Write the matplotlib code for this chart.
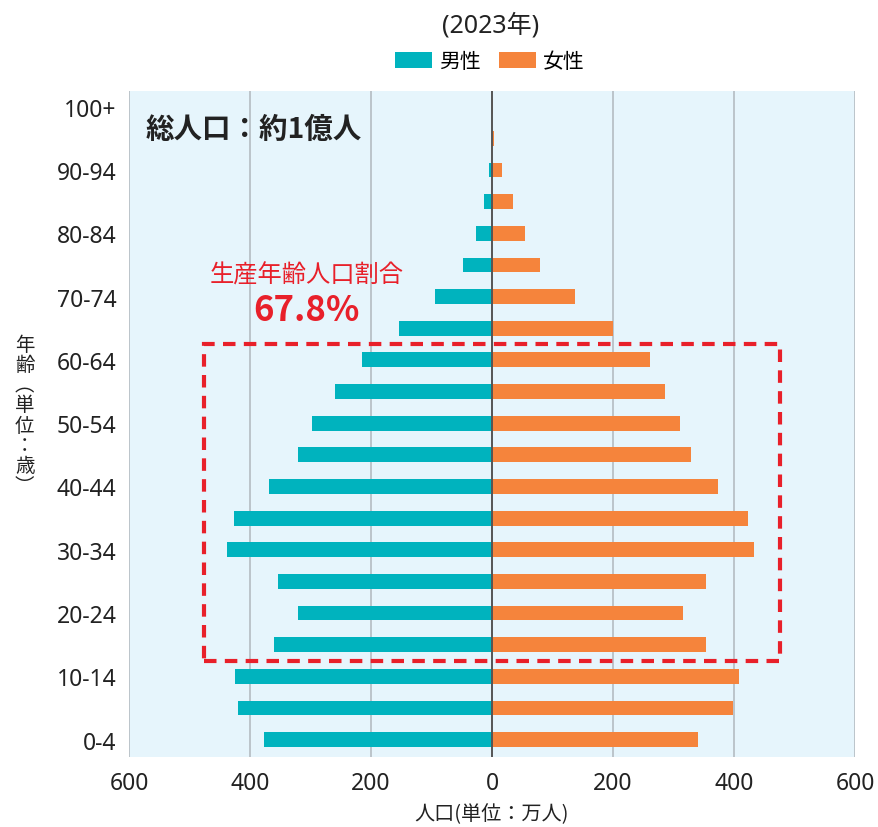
import matplotlib
matplotlib.use("Agg")
import matplotlib.pyplot as plt
from matplotlib.patches import Rectangle, Patch

plt.rcParams['font.family'] = ['Noto Sans', 'Noto Sans CJK JP', 'DejaVu Sans']

# age groups, bottom to top (万人)
ages = ['0-4', '5-9', '10-14', '15-19', '20-24', '25-29', '30-34', '35-39',
        '40-44', '45-49', '50-54', '55-59', '60-64', '65-69', '70-74',
        '75-79', '80-84', '85-89', '90-94', '95-99', '100+']
male = [377, 420, 425, 360, 320, 354, 438, 426, 369, 321, 297, 260, 215,
        154, 95, 48, 26, 13, 4.5, 0.5, 0.1]
female = [340, 399, 408, 354, 316, 353, 433, 423, 374, 329, 311, 286, 261,
          200, 137, 79, 54, 35, 16, 3.5, 0.8]
xticks = [-600, -400, -200, 0, 200, 400, 600]
xticklabels = ['600', '400', '200', '0', '200', '400', '600']

teal = '#00B3BE'
orange = '#F5843C'
red = '#E8202A'
ink = '#222222'
cjk = ['Noto Sans CJK JP']

fig = plt.figure(figsize=(8.79, 8.28), dpi=100)
ax = fig.add_axes([0.1468, 0.0845, 0.8259, 0.8045])
ax.set_facecolor('#E6F5FC')

y = list(range(len(ages)))
ax.barh(y, [-m for m in male], height=0.47, color=teal, zorder=3)
ax.barh(y, female, height=0.47, color=orange, zorder=3)

ax.set_xlim(-600, 600)
ax.set_ylim(-0.55, 20.5)
for x in xticks:
    if x == 0:
        ax.axvline(0, color='#555555', lw=1.4, zorder=4)
    else:
        ax.axvline(x, color='#B4BCC2', lw=1.2, zorder=1)

ax.set_xticks(xticks)
ax.set_xticklabels(xticklabels, fontsize=16.5, color=ink)
ax.set_yticks(y[::2])
ax.set_yticklabels(ages[::2], fontsize=16.5, color=ink)
ax.tick_params(axis='y', length=0, pad=9)
ax.tick_params(axis='x', length=0, pad=10)
for s in ax.spines.values():
    s.set_visible(False)

ax.set_xlabel('人口(単位：万人)', fontsize=14.5, color=ink, labelpad=6,
              family=cjk)

# vertical y label
fig.text(0.028, 1 - 416 / 828, '年\n齢\n︵\n単\n位\n：\n歳\n︶', fontsize=14,
         color=ink, ha='center', va='center', linespacing=0.95, family=cjk)

# working-age box
ax.add_patch(Rectangle((-476, 2.5), 952, 10.0, fill=False, edgecolor=red,
                       lw=3, ls=(0, (3, 2)), zorder=5))

ax.text(-572, 19.3, '総人口：約1億人', fontsize=20.5, fontweight='bold',
        color=ink, va='center', ha='left', zorder=6, family=cjk)
ax.text(-306, 14.7, '生産年齢人口割合', fontsize=17.5, color=red,
        va='center', ha='center', zorder=6, family=cjk)
ax.text(-306, 13.6, '67.8%', fontsize=25, fontweight='bold', color=red,
        va='center', ha='center', zorder=6, family=cjk)

fig.text(0.558, 0.969, '(2023年)', fontsize=18, color=ink,
         ha='center', va='center')
handles = [Patch(facecolor=teal, label='男性'), Patch(facecolor=orange, label='女性')]
fig.legend(handles=handles, loc='center', bbox_to_anchor=(0.557, 0.924), ncol=2,
           frameon=False, fontsize=15, handlelength=1.78, handleheight=0.77,
           handletextpad=0.34, columnspacing=0.87, borderpad=0)

fig.savefig('out.png', dpi=100)
